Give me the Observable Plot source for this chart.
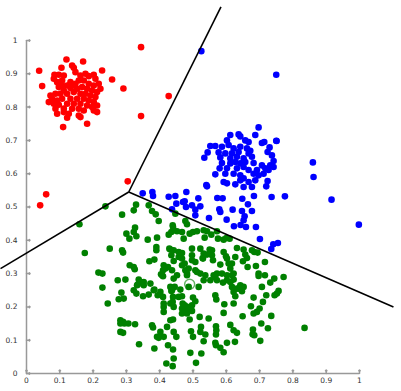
<!DOCTYPE html>
<html><head><meta charset="utf-8">
<script src="https://cdn.jsdelivr.net/npm/d3@7"></script>
<script src="https://cdn.jsdelivr.net/npm/@observablehq/plot@0.6"></script>
<style>html,body{margin:0;padding:0;background:#fff}svg{display:block}</style>
</head><body><div id="chart"></div>
<script>
const tickValues = [0,0.1,0.2,0.3,0.4,0.5,0.6,0.7,0.8,0.9,1];
const tickLabels = ["0","0.1","0.2","0.3","0.4","0.5","0.6","0.7","0.8","0.9","1"];

const red = [
[0.038,0.909],[0.047,0.863],[0.344,0.98],[0.427,0.833],[0.344,0.773],[0.291,0.856],[0.257,0.883],[0.227,0.91],[0.304,0.577],[0.059,0.538],[0.041,0.505],
[0.12,0.943],[0.17,0.937],[0.105,0.918],[0.137,0.925],[0.142,0.918],[0.084,0.897],[0.097,0.897],[0.112,0.895],[0.082,0.885],[0.092,0.875],[0.107,0.88],
[0.147,0.905],[0.162,0.895],[0.177,0.9],[0.187,0.893],[0.202,0.897],[0.207,0.885],[0.217,0.87],[0.222,0.855],[0.202,0.865],[0.187,0.87],[0.172,0.88],
[0.157,0.88],[0.147,0.87],[0.132,0.875],[0.122,0.865],[0.107,0.865],[0.097,0.86],[0.132,0.857],[0.152,0.855],[0.167,0.86],[0.182,0.855],[0.197,0.85],
[0.212,0.845],[0.112,0.85],[0.087,0.84],[0.072,0.835],[0.102,0.84],[0.122,0.84],[0.142,0.845],[0.162,0.84],[0.177,0.84],[0.192,0.835],[0.207,0.83],
[0.077,0.825],[0.092,0.82],[0.107,0.825],[0.132,0.825],[0.152,0.825],[0.172,0.825],[0.187,0.82],[0.202,0.815],[0.067,0.815],[0.082,0.81],[0.097,0.807],
[0.122,0.81],[0.142,0.81],[0.162,0.81],[0.182,0.805],[0.197,0.8],[0.212,0.805],[0.087,0.795],[0.112,0.796],[0.137,0.795],[0.157,0.795],[0.172,0.79],
[0.202,0.79],[0.212,0.785],[0.092,0.78],[0.112,0.785],[0.127,0.78],[0.157,0.775],[0.11,0.74],[0.162,0.77],[0.182,0.75],[0.122,0.768],[0.142,0.865]
];

const blue = [
[0.525,0.968],[0.75,0.897],[0.86,0.634],[0.862,0.59],[0.916,0.522],[0.998,0.447],[0.776,0.532],[0.736,0.53],[0.751,0.698],[0.697,0.739],
[0.701,0.404],[0.741,0.388],[0.755,0.392],[0.735,0.374],[0.689,0.44],[0.659,0.44],[0.643,0.446],[0.623,0.442],[0.601,0.462],[0.548,0.467],
[0.652,0.46],[0.655,0.472],[0.647,0.488],[0.677,0.488],[0.665,0.508],[0.619,0.492],[0.579,0.493],[0.582,0.485],[0.522,0.502],[0.573,0.527],
[0.589,0.526],[0.648,0.525],[0.683,0.533],
[0.349,0.541],[0.378,0.545],[0.38,0.533],[0.427,0.531],[0.447,0.533],[0.48,0.545],[0.516,0.526],[0.45,0.51],[0.437,0.493],[0.475,0.517],
[0.47,0.515],[0.497,0.505],[0.507,0.492],[0.479,0.5],[0.507,0.475],[0.542,0.562],[0.72,0.562],
[0.612,0.716],[0.637,0.718],[0.642,0.712],[0.687,0.716],[0.657,0.7],[0.667,0.695],[0.602,0.7],[0.707,0.692],[0.714,0.695],[0.75,0.699],
[0.552,0.683],[0.567,0.683],[0.587,0.681],[0.607,0.686],[0.622,0.676],[0.642,0.681],[0.662,0.676],[0.672,0.669],[0.73,0.679],[0.724,0.665],
[0.544,0.664],[0.577,0.664],[0.597,0.661],[0.617,0.661],[0.637,0.665],[0.667,0.661],[0.534,0.648],[0.582,0.649],[0.612,0.646],[0.632,0.651],
[0.652,0.646],[0.677,0.651],[0.737,0.655],[0.742,0.638],[0.587,0.632],[0.612,0.631],[0.627,0.635],[0.642,0.631],[0.657,0.635],[0.682,0.632],
[0.707,0.625],[0.732,0.625],[0.742,0.62],[0.58,0.616],[0.602,0.616],[0.632,0.616],[0.652,0.62],[0.667,0.611],[0.692,0.611],[0.717,0.616],
[0.727,0.611],[0.567,0.598],[0.597,0.6],[0.622,0.6],[0.642,0.595],[0.682,0.6],[0.697,0.595],[0.712,0.6],[0.592,0.575],[0.602,0.571],
[0.627,0.568],[0.642,0.58],[0.652,0.586],[0.667,0.575],[0.687,0.58],[0.724,0.578],[0.54,0.566],[0.652,0.56],[0.677,0.56]
];

const green = [
[0.237,0.502],[0.159,0.448],[0.175,0.362],[0.25,0.375],[0.216,0.303],[0.228,0.3],[0.228,0.258],[0.244,0.21],[0.274,0.28],[0.285,0.243],
[0.277,0.223],[0.292,0.225],[0.297,0.282],[0.287,0.37],[0.29,0.363],[0.287,0.477],[0.3,0.42],[0.31,0.325],[0.322,0.25],[0.329,0.507],
[0.322,0.49],[0.326,0.438],[0.322,0.425],[0.33,0.412],[0.309,0.405],[0.322,0.32],[0.325,0.313],[0.33,0.24],[0.337,0.282],[0.334,0.267],
[0.342,0.275],[0.352,0.275],[0.35,0.232],[0.282,0.16],[0.29,0.155],[0.282,0.15],[0.294,0.15],[0.306,0.15],[0.326,0.148],[0.282,0.125],
[0.29,0.122],[0.338,0.088],[0.364,0.402],[0.367,0.505],[0.377,0.488],[0.388,0.478],[0.397,0.458],[0.392,0.408],[0.369,0.337],[0.384,0.342],
[0.39,0.38],[0.39,0.37],[0.372,0.27],[0.384,0.252],[0.402,0.245],[0.394,0.235],[0.41,0.23],[0.377,0.145],[0.38,0.138],[0.384,0.075],
[0.392,0.11],[0.402,0.125],[0.412,0.11],[0.422,0.14],[0.425,0.085],[0.367,0.237],[0.382,0.25],[0.412,0.21],[0.412,0.2],[0.412,0.185],
[0.42,0.03],[0.397,0.107],[0.427,0.417],[0.429,0.375],[0.412,0.325],[0.425,0.32],[0.404,0.298],[0.41,0.292],[0.417,0.315],[0.41,0.31],
[0.407,0.295],[0.352,0.265],[0.332,0.265],
[0.442,0.125],[0.45,0.11],[0.44,0.162],[0.432,0.21],[0.442,0.2],[0.439,0.022],[0.442,0.045],[0.44,0.072],[0.432,0.26],[0.445,0.26],
[0.435,0.248],[0.44,0.23],[0.439,0.215],[0.442,0.338],[0.435,0.355],[0.432,0.372],[0.435,0.425],[0.442,0.43],[0.439,0.445],[0.447,0.48],
[0.467,0.425],[0.472,0.405],[0.477,0.458],[0.482,0.448],[0.467,0.362],[0.467,0.345],[0.467,0.325],[0.462,0.252],[0.482,0.3],[0.487,0.315],
[0.497,0.355],[0.497,0.34],[0.507,0.31],[0.512,0.305],[0.49,0.42],[0.5,0.425],[0.497,0.375],[0.467,0.232],[0.475,0.205],[0.467,0.195],
[0.482,0.2],[0.467,0.18],[0.482,0.18],[0.497,0.188],[0.497,0.205],[0.5,0.228],[0.49,0.162],[0.494,0.127],[0.5,0.11],[0.492,0.062],
[0.509,0.032],[0.44,0.44],[0.452,0.427],[0.512,0.427],[0.535,0.408],[0.542,0.427],[0.555,0.417],[0.442,0.37],[0.457,0.365],[0.457,0.35],
[0.475,0.33],[0.477,0.31],[0.482,0.295],[0.507,0.335],[0.522,0.375],[0.532,0.36],[0.529,0.347],[0.55,0.372],[0.557,0.355],[0.56,0.34],
[0.522,0.3],[0.537,0.295],[0.532,0.28],[0.552,0.28],[0.452,0.295],[0.442,0.285],[0.437,0.31],[0.437,0.25],[0.487,0.26],[0.517,0.26],
[0.457,0.23],[0.469,0.21],[0.482,0.185],[0.507,0.217],[0.52,0.17],[0.547,0.165],[0.432,0.16],[0.524,0.14],[0.522,0.125],[0.537,0.117],
[0.532,0.097],[0.525,0.06],[0.532,0.43],[0.53,0.345],[0.542,0.357],
[0.572,0.427],[0.575,0.405],[0.592,0.402],[0.6,0.407],[0.61,0.405],[0.632,0.377],[0.652,0.372],[0.657,0.357],[0.65,0.337],[0.664,0.32],
[0.592,0.365],[0.602,0.345],[0.607,0.33],[0.617,0.33],[0.612,0.315],[0.622,0.3],[0.602,0.295],[0.582,0.327],[0.572,0.3],[0.562,0.295],
[0.572,0.28],[0.59,0.273],[0.612,0.275],[0.677,0.37],[0.684,0.365],[0.694,0.363],[0.716,0.335],[0.689,0.323],[0.697,0.3],[0.697,0.293],
[0.716,0.295],[0.744,0.285],[0.772,0.29],[0.732,0.273],[0.557,0.37],[0.599,0.352],[0.627,0.35],[0.662,0.347],[0.567,0.288],[0.587,0.3],
[0.602,0.28],[0.617,0.295],[0.622,0.282],[0.617,0.26],[0.622,0.245],[0.627,0.232],[0.642,0.265],[0.637,0.255],[0.652,0.26],[0.647,0.247],
[0.567,0.235],[0.57,0.222],[0.682,0.228],[0.72,0.235],[0.745,0.235],[0.752,0.24],[0.757,0.248],[0.71,0.215],[0.707,0.26],[0.674,0.202],
[0.682,0.18],[0.692,0.185],[0.7,0.195],[0.735,0.173],[0.649,0.172],[0.594,0.208],[0.592,0.182],[0.705,0.15],[0.725,0.136],[0.68,0.132],
[0.679,0.118],[0.684,0.115],[0.612,0.146],[0.622,0.13],[0.632,0.122],[0.569,0.142],[0.57,0.13],[0.569,0.117],[0.567,0.092],[0.569,0.085],
[0.602,0.092],[0.582,0.077],[0.592,0.064],[0.626,0.095],[0.702,0.098],[0.835,0.137],[0.632,0.255],[0.622,0.21]
];

const centroid = [[0.49,0.268]];
const boundaryFrom = [[0.307,0.545],[0.307,0.545],[0.307,0.545]];
const boundaryTo = [[0.584,1.101],[-0.078,0.315],[1.102,0.2]];

const fmt = d => tickLabels[tickValues.indexOf(d)];
const axisColor = "#999";
const dotR = 3.3;

const plot = Plot.plot({
  width: 401, height: 391,
  marginLeft: 26, marginRight: 42, marginTop: 40, marginBottom: 18,
  x: {domain: [0, 1]},
  y: {domain: [0, 1]},
  style: {fontFamily: "DejaVu Sans", fontSize: "7.5px", color: "#333", background: "white", overflow: "visible"},
  marks: [
    Plot.ruleX([0], {stroke: axisColor, strokeWidth: 1.5}),
    Plot.ruleY([0], {stroke: axisColor, strokeWidth: 1.5}),
    Plot.vector(tickValues, {x: () => 0, y: d => d, length: 3.5, rotate: 90, anchor: "start", stroke: axisColor}),
    Plot.vector(tickValues, {x: d => d, y: () => 0, length: 3.5, rotate: 0, anchor: "start", stroke: axisColor}),
    Plot.axisY(tickValues, {tickSize: 0, tickPadding: 9, tickFormat: fmt}),
    Plot.axisX(tickValues, {tickSize: 0, tickPadding: 4, tickFormat: fmt}),
    Plot.dot(red, {x: d => d[0], y: d => d[1], r: dotR, fill: "#ff0000"}),
    Plot.dot(blue, {x: d => d[0], y: d => d[1], r: dotR, fill: "#0000ff"}),
    Plot.dot(green, {x: d => d[0], y: d => d[1], r: dotR, fill: "#008000"}),
    Plot.dot(centroid, {x: d => d[0], y: d => d[1], r: 5, fill: "none", stroke: "#008000", strokeOpacity: 0.6, strokeWidth: 1.5}),
    Plot.link(boundaryFrom.map((d, i) => i), {
      x1: i => boundaryFrom[i][0], y1: i => boundaryFrom[i][1],
      x2: i => boundaryTo[i][0], y2: i => boundaryTo[i][1],
      stroke: "black", strokeWidth: 1.6, clip: false
    })
  ]
});
document.getElementById("chart").appendChild(plot);
</script>
</body></html>
